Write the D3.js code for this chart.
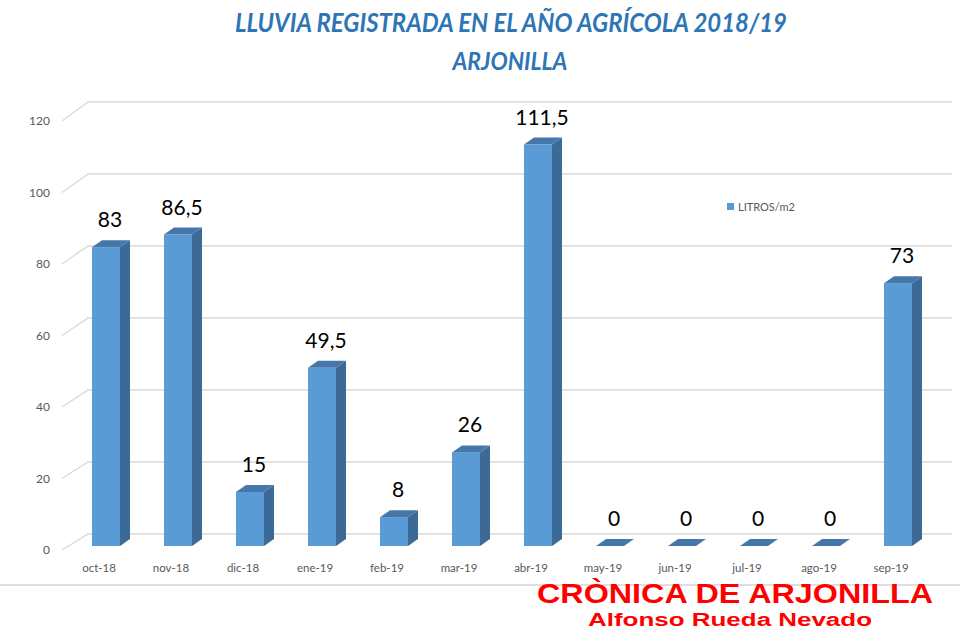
<!DOCTYPE html>
<head>
    <meta charset="utf-8" />
    <script src="https://d3js.org/d3.v7.min.js"></script>
    <style>
        body { margin: 0; background: #fff; }
        svg { display: block; }
    </style>
</head>
<body>
<div id="chart"></div>
<script>
    // datos
    const meses = ["oct-18", "nov-18", "dic-18", "ene-19", "feb-19", "mar-19",
                   "abr-19", "may-19", "jun-19", "jul-19", "ago-19", "sep-19"];
    const litros = [83, 86.5, 15, 49.5, 8, 26, 111.5, 0, 0, 0, 0, 73];
    const ticksY = [0, 20, 40, 60, 80, 100, 120];
    const serie = "LITROS/m2";
    const titulo1 = "LLUVIA REGISTRADA EN EL AÑO AGRÍCOLA 2018/19";
    const titulo2 = "ARJONILLA";

    const width = 960, height = 642;
    const dx = 10, dy = 7;        // profundidad 3D de las barras
    const fmt = v => String(v).replace(".", ",");

    const svg = d3.select("#chart").append("svg")
        .attr("width", width)
        .attr("height", height);

    // escalas
    const x = d3.scaleBand()
        .domain(meses)
        .range([70, 934])
        .paddingInner(44 / 72)
        .paddingOuter(22 / 72);

    // frente de las barras
    const y = d3.scaleLinear().domain([0, 120]).range([546, 114]);
    // pared del fondo (rejilla)
    const yWall = v => y(v) - 12;
    // plano frontal (etiquetas del eje)
    const yFront = d3.scaleLinear().domain([0, 120]).range([550, 121]);

    // rejilla en perspectiva
    const grid = svg.append("g");
    grid.selectAll("path")
        .data(ticksY)
        .enter()
        .append("path")
        .attr("d", d => "M62," + yFront(d) + "L88," + yWall(d) + "H952")
        .attr("fill", "none")
        .attr("stroke", "#d9d9d9")
        .attr("stroke-width", 1.3);

    // etiquetas eje Y
    svg.append("g").selectAll("text")
        .data(ticksY)
        .enter()
        .append("text")
        .attr("x", 50)
        .attr("y", d => yFront(d))
        .attr("dy", "0.35em")
        .attr("text-anchor", "end")
        .style("font-family", "Lato, sans-serif")
        .style("font-size", "12px")
        .style("fill", "#595959")
        .text(d => d);

    // barras 3D
    const bars = svg.append("g").selectAll("g")
        .data(meses.map((m, i) => ({ mes: m, v: litros[i] })))
        .enter()
        .append("g");

    const bw = x.bandwidth();

    bars.filter(d => d.v > 0).append("rect")
        .attr("x", d => x(d.mes))
        .attr("y", d => y(d.v))
        .attr("width", bw)
        .attr("height", d => y(0) - y(d.v))
        .attr("fill", "#5b9bd5");

    bars.filter(d => d.v > 0).append("path")
        .attr("d", d => {
            const x1 = x(d.mes) + bw;
            return "M" + x1 + "," + y(d.v) + "L" + (x1 + dx) + "," + (y(d.v) - dy) +
                "L" + (x1 + dx) + "," + (y(0) - dy) + "L" + x1 + "," + y(0) + "Z";
        })
        .attr("fill", "#3c6a96");

    bars.append("path")
        .attr("d", d => {
            const x0 = x(d.mes), yt = y(d.v);
            return "M" + x0 + "," + yt + "L" + (x0 + bw) + "," + yt +
                "L" + (x0 + bw + dx) + "," + (yt - dy) + "L" + (x0 + dx) + "," + (yt - dy) + "Z";
        })
        .attr("fill", "#4677ab");

    // etiquetas de valor
    bars.append("text")
        .attr("x", d => x(d.mes) + bw / 2 + 4)
        .attr("y", d => y(d.v) - 20)
        .attr("text-anchor", "middle")
        .style("font-family", "Lato, sans-serif")
        .style("font-size", "21px")
        .style("fill", "#000")
        .text(d => fmt(d.v));

    // etiquetas eje X
    svg.append("g").selectAll("text")
        .data(meses)
        .enter()
        .append("text")
        .attr("x", d => x(d) + bw / 2 - 7)
        .attr("y", 568)
        .attr("dy", "0.35em")
        .attr("text-anchor", "middle")
        .style("font-family", "Lato, sans-serif")
        .style("font-size", "11.5px")
        .style("fill", "#595959")
        .text(d => d);

    // leyenda
    svg.append("rect")
        .attr("x", 727).attr("y", 203)
        .attr("width", 7).attr("height", 7)
        .attr("fill", "#5b9bd5");
    svg.append("text")
        .attr("x", 738).attr("y", 207)
        .attr("dy", "0.35em")
        .style("font-family", "Lato, sans-serif")
        .style("font-size", "11px")
        .style("fill", "#595959")
        .text(serie);

    // titulo
    svg.append("text")
        .attr("x", 511).attr("y", 32)
        .attr("text-anchor", "middle")
        .attr("textLength", 552)
        .attr("lengthAdjust", "spacingAndGlyphs")
        .style("font-family", "Lato, sans-serif")
        .style("font-weight", "bold")
        .style("font-style", "italic")
        .style("font-size", "26px")
        .style("fill", "#2e75b6")
        .text(titulo1);
    svg.append("text")
        .attr("x", 510).attr("y", 70)
        .attr("text-anchor", "middle")
        .attr("textLength", 115)
        .attr("lengthAdjust", "spacingAndGlyphs")
        .style("font-family", "Lato, sans-serif")
        .style("font-weight", "bold")
        .style("font-style", "italic")
        .style("font-size", "24px")
        .style("fill", "#2e75b6")
        .text(titulo2);

    // borde inferior del gráfico
    svg.append("line")
        .attr("x1", 0).attr("x2", width)
        .attr("y1", 585).attr("y2", 585)
        .attr("stroke", "#d4d4d4")
        .attr("stroke-width", 1.5);

    // marca de agua
    svg.append("text")
        .attr("x", 735).attr("y", 603)
        .attr("text-anchor", "middle")
        .attr("textLength", 396)
        .attr("lengthAdjust", "spacingAndGlyphs")
        .style("font-family", "'Liberation Sans', Arial, sans-serif")
        .style("font-weight", "bold")
        .style("font-size", "28px")
        .style("fill", "#ff0000")
        .text("CRÒNICA DE ARJONILLA");
    svg.append("text")
        .attr("x", 730).attr("y", 626)
        .attr("text-anchor", "middle")
        .attr("textLength", 284)
        .attr("lengthAdjust", "spacingAndGlyphs")
        .style("font-family", "'Liberation Sans', Arial, sans-serif")
        .style("font-weight", "bold")
        .style("font-size", "18px")
        .style("fill", "#ff0000")
        .text("Alfonso Rueda Nevado");
</script>
</body>
